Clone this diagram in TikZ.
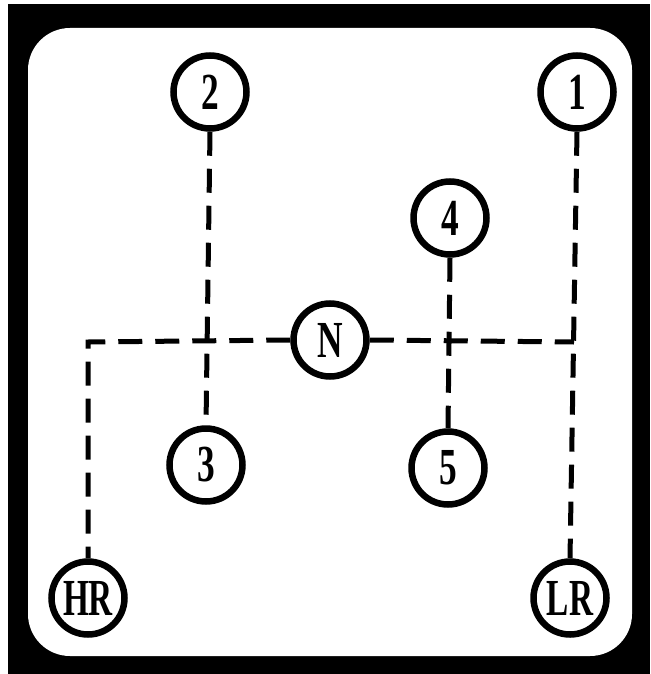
\documentclass[tikz,border=0pt]{standalone}
\usepackage{fontspec}
\setmainfont{Liberation Serif}
\begin{document}
\begin{tikzpicture}[x=1pt,y=-1pt,
  gear/.style={circle,draw=black,line width=6.5pt,fill=white,minimum size=73pt,inner sep=0pt,
    font=\fontsize{52}{52}\selectfont\bfseries},
  shiftline/.style={line width=5pt,dash pattern=on 24pt off 13pt}]
\useasboundingbox (0,0) rectangle (650,674);
\fill[black] (8,4) rectangle (650,674);
\fill[white,rounded corners=42pt] (28,28) rectangle (632,656);
\node[gear] (two) at (210,92) {\scalebox{0.68}[1]{2}};
\node[gear] (one) at (577,92) {\scalebox{0.68}[1]{1}};
\node[gear] (four) at (450,218) {\scalebox{0.68}[1]{4}};
\node[gear] (N) at (330,340) {\scalebox{0.68}[1]{N}};
\node[gear] (three) at (206,465) {\scalebox{0.68}[1]{3}};
\node[gear] (five) at (448,468) {\scalebox{0.68}[1]{5}};
\node[gear] (HR) at (88,598) {\scalebox{0.64}[1]{HR}};
\node[gear] (LR) at (570,598) {\scalebox{0.64}[1]{LR}};
\coordinate (cl) at (88,342);
\coordinate (cr) at (574,342);
\draw[shiftline] (two.south) -- (three.north);
\draw[shiftline] (four.south) -- (five.north);
\draw[shiftline] (one.south) -- (LR.north);
\draw[shiftline] (N.west) -- (cl) -- (HR.north);
\draw[shiftline] (N.east) -- (cr);
\end{tikzpicture}
\end{document}
